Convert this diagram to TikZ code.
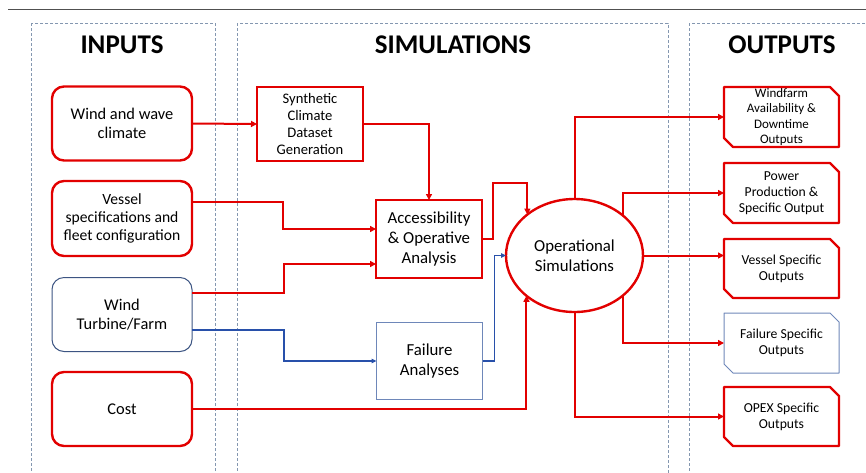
\documentclass[tikz,border=0pt]{standalone}
\usepackage{fontspec}
\setmainfont{Carlito}
\usetikzlibrary{arrows.meta,shapes.geometric,calc}

\definecolor{linered}{RGB}{226,0,0}
\definecolor{turbblue}{RGB}{60,84,130}
\definecolor{failblue}{RGB}{110,135,185}
\definecolor{wireblue}{RGB}{40,80,170}
\definecolor{panelgrey}{RGB}{132,151,176}
\definecolor{rulegrey}{RGB}{80,80,80}

% outline with the top-right and bottom-left corners cut off
\newcommand\snipframe[2]{%
  \draw[#2] (#1.north west) -- ([xshift=-9pt]#1.north east)
    -- ([yshift=-9pt]#1.north east) -- (#1.south east)
    -- ([xshift=9pt]#1.south west) -- ([yshift=9pt]#1.south west) -- cycle;}

\begin{document}
\begin{tikzpicture}[x=1pt,y=-1pt,
  title/.style={font=\fontsize{27}{31}\selectfont\bfseries, inner sep=0pt},
  paneline/.style={draw=panelgrey, line width=1pt, dash pattern=on 3pt off 2pt},
  inbox/.style={draw=linered, line width=2.4pt, rounded corners=12pt,
    minimum width=140pt, minimum height=74pt, inner sep=0pt, outer sep=0pt,
    align=center, font=\fontsize{16.4}{19}\selectfont},
  blueinbox/.style={inbox, draw=turbblue, line width=1pt},
  simbox/.style={draw=linered, line width=2.4pt, minimum width=106pt,
    inner sep=0pt, outer sep=0pt, align=center, font=\fontsize{16.8}{20}\selectfont},
  bluesimbox/.style={simbox, draw=failblue, line width=1pt},
  outbox/.style={minimum width=115pt, minimum height=60pt, inner sep=0pt,
    outer sep=0pt, align=center, font=\fontsize{13.7}{16.2}\selectfont},
  redframe/.style={draw=linered, line width=2.4pt, line join=round},
  blueframe/.style={draw=failblue, line width=1pt, line join=round},
  redline/.style={draw=linered, line width=2pt, -{Triangle[length=6pt,width=6pt]}},
  blueline/.style={draw=wireblue, line width=1.2pt, -{Triangle[length=5pt,width=4.5pt]}}]

\useasboundingbox (0,0) rectangle (866,472);
\clip (0,0) rectangle (866,472);

% top rule and the three dashed panels
\draw[rulegrey, line width=1pt] (8,9) -- (866,9);
\draw[paneline] (31,23) rectangle (215,490);
\draw[paneline] (237,23) rectangle (668,490);
\draw[paneline] (689,23) rectangle (890,490);

\node[title] (tIn)  at (122,45) {INPUTS};
\node[title] (tSim) at (453,45) {SIMULATIONS};
\node[title] (tOut) at (782,45) {OUTPUTS};

% inputs
\node[inbox]     (inWind)   at (122,123.5) {Wind and wave\\climate};
\node[inbox, minimum height=75pt, font=\fontsize{15.6}{18.3}\selectfont] (inVessel) at (122,218.5)
  {Vessel\\specifications and\\fleet configuration};
\node[blueinbox] (inTurb)   at (122,314.5) {Wind\\Turbine/Farm};
\node[inbox]     (inCost)   at (122,409)   {Cost};

% simulations
\node[simbox, minimum height=74pt, font=\fontsize{14.6}{17.3}\selectfont] (synth) at (310,124)
  {Synthetic\\Climate\\Dataset\\Generation};
\node[simbox, minimum height=78pt] (access) at (429,239) {Accessibility\\\& Operative\\Analysis};
\node[bluesimbox, minimum height=77pt] (fail) at (429.5,361) {Failure\\Analyses};
\node[ellipse, draw=linered, line width=2.4pt, minimum width=137pt, minimum height=113pt,
  inner sep=0pt, outer sep=0pt, align=center, font=\fontsize{16.8}{20}\selectfont]
  (ops) at (574.5,255.5) {Operational\\Simulations};

% outputs
\node[outbox, font=\fontsize{13}{15.5}\selectfont] (outWind) at (781.5,117)
  {Windfarm\\Availability \&\\Downtime\\Outputs};
\node[outbox] (outPower)  at (781.5,193)   {Power\\Production \&\\Specific Output};
\node[outbox, minimum height=59pt] (outVessel) at (781.5,268.5) {Vessel Specific\\Outputs};
\node[outbox] (outFail)   at (781.5,343)   {Failure Specific\\Outputs};
\node[outbox, minimum height=59pt] (outOpex)  at (781.5,416.5) {OPEX Specific\\Outputs};
\snipframe{outWind}{redframe}
\snipframe{outPower}{redframe}
\snipframe{outVessel}{redframe}
\snipframe{outFail}{blueframe}
\snipframe{outOpex}{redframe}

% connectors into the simulations
\draw[redline] (inWind.east) -- (synth.west);
\draw[redline] (synth.east) -| (access.north);
\draw[redline] ([yshift=16.5pt]inVessel.east) -| (283,229) -- ([yshift=10pt]access.west);
\draw[redline] ([yshift=21.5pt]inTurb.east) -| (284,264) -- ([yshift=-25pt]access.west);
\draw[blueline] ([yshift=-15.5pt]inTurb.east) -| (284,361) -- (fail.west);
\draw[blueline] (fail.east) -- ++(12,0) |- (ops.west);
\draw[redline] (access.east) -- ++(11,0) |- ([yshift=32pt]ops.139.4) -- (ops.139.4);
\draw[redline] (inCost.east) -| (ops.220.6);

% connectors to the outputs
\draw[redline] (ops.north) |- (outWind.west);
\draw[redline] (ops.39.4) |- (outPower.west);
\draw[redline] (ops.east) -- (ops.east -| outVessel.west);
\draw[redline] (ops.-39.4) |- (outFail.west);
\draw[redline] (ops.south) |- (outOpex.west);
\end{tikzpicture}
\end{document}
